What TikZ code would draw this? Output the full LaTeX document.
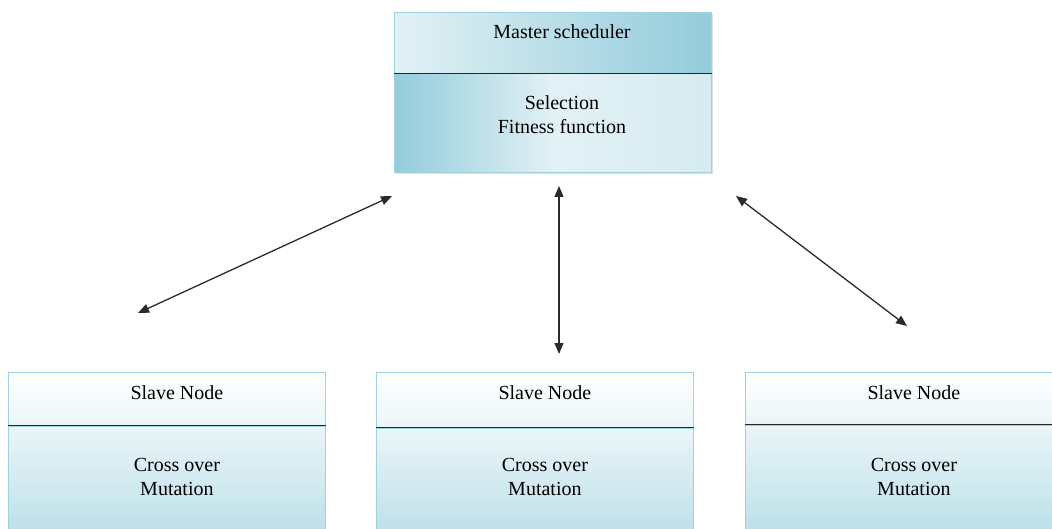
\documentclass[tikz,border=0pt]{standalone}
\usepackage{fontspec}
\setmainfont{Liberation Serif}
\usetikzlibrary{arrows.meta,shadows,calc}

\definecolor{boxedge}{HTML}{9FD2DF}
\definecolor{mlight}{HTML}{E2F1F5}
\definecolor{mdark}{HTML}{93CCDB}
\definecolor{slight}{HTML}{EAF5F8}
\definecolor{sdark}{HTML}{B2DBE5}
\definecolor{wire}{HTML}{2B2B2B}

\tikzset{
  section/.style={draw=boxedge, line width=0.8pt, minimum width=317pt,
    inner sep=0pt, anchor=north west},
  lbl/.style={align=center, inner sep=0pt, font=\fontsize{20}{24}\selectfont},
  divider/.style={draw=black!85, line width=1.2pt},
  link/.style={draw=wire, line width=1.3pt,
    {Triangle[length=11pt,width=9pt]}-{Triangle[length=11pt,width=9pt]}},
  mastertop/.style={section, minimum height=61pt,
    shading=axis, shading angle=-35, left color=mlight, right color=mdark},
  masterbot/.style={section, minimum height=99pt,
    shading=axis, shading angle=-45, left color=mdark, right color=mlight!85!mdark,
    middle color=mlight},
  slavetop/.style={section, minimum height=53pt,
    top color=white, bottom color=slight},
  slavebot/.style={section, minimum height=130pt,
    top color=slight, bottom color=sdark}
}

\begin{document}
\begin{tikzpicture}[x=1pt,y=-1pt]
\useasboundingbox (0,0) rectangle (1052,529);
\clip (0,0) rectangle (1052,529);

% master scheduler box
\node[mastertop, drop shadow={shadow xshift=2pt, shadow yshift=-2pt, opacity=0.25}] (mtop) at (394,12) {};
\node[masterbot, drop shadow={shadow xshift=2pt, shadow yshift=-2pt, opacity=0.25}] (mbot) at (394,73) {};
\draw[draw=boxedge, line width=0.8pt] (mtop.north west) rectangle (mbot.south east);
\draw[divider] (mtop.south west) -- (mtop.south east);
\node[lbl] (mtitle) at (562,32) {Master scheduler};
\node[lbl] (mbody) at (562,115) {Selection\\Fitness function};

% slave nodes
\foreach \n/\x/\d in {a/8/53, b/376/55, c/745/52}{
  \node[slavetop, minimum height=\d pt] (\n top) at (\x,372) {};
  \node[slavebot] (\n bot) at ($(\n top.south west)$) {};
  \draw[divider] (\n top.south west) -- (\n top.south east);
  \node[lbl] (\n title) at ($(\n top.north)+(10,21)$) {Slave Node};
  \node[lbl] (\n body) at ($(\n top.north)+(10,105)$) {Cross over\\Mutation};
}

% links between master and slaves
\coordinate (la) at (392,196);
\coordinate (lb) at (138,313);
\coordinate (ma) at (559,186);
\coordinate (mb) at (559,354);
\coordinate (ra) at (736,196);
\coordinate (rb) at (907,326);
\draw[link] (la) -- (lb);
\draw[link] (ma) -- (mb);
\draw[link] (ra) -- (rb);
\end{tikzpicture}
\end{document}
